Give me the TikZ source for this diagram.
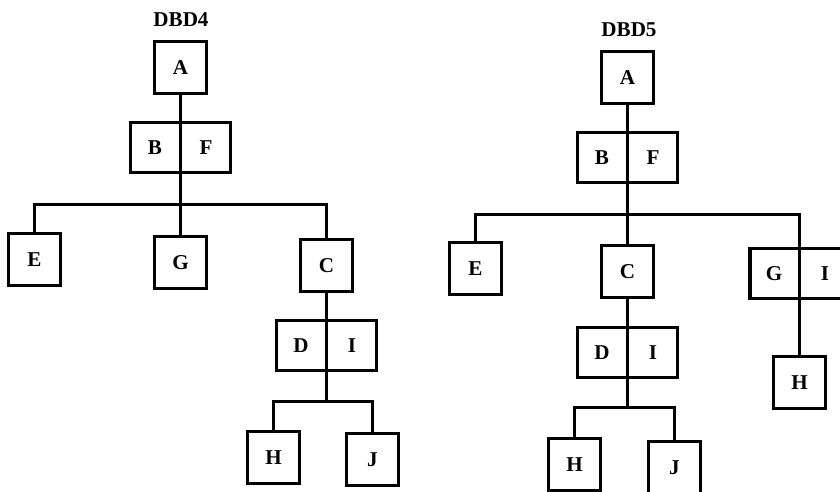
\documentclass[tikz,border=0pt]{standalone}
\usepackage{fontspec}
\setmainfont{Liberation Serif}
\usetikzlibrary{shapes.multipart}
\begin{document}
\begin{tikzpicture}[x=0.025cm, y=-0.025cm, font=\bfseries\fontsize{15}{17}\selectfont]
      \tikzset{sqbox/.style={draw, line width=2.2pt, minimum width=1.3cm, minimum height=1.3cm, inner sep=0pt},
        pair/.style={draw, line width=2.2pt, rectangle split, rectangle split horizontal, rectangle split parts=2,
          text width=1.2cm, align=center, inner xsep=0pt, inner ysep=0pt, minimum height=1.23cm},
        link/.style={line width=2pt}}
      \useasboundingbox (0,0) rectangle (840,492);

      \node (title4) at (181,20) {DBD4};
      \node[sqbox] (a4) at (180.5,67.5) {A};
      \node[pair] (bf4) at (180.5,147.5) {B\nodepart{two}F};
      \coordinate (bus4) at (180.5,204.5);
      \node[sqbox] (e4) at (34.5,259.5) {E};
      \node[sqbox] (g4) at (180.5,262.5) {G};
      \node[sqbox] (c4) at (326.5,265.5) {C};
      \node[pair] (di4) at (326.5,345.5) {D\nodepart{two}I};
      \coordinate (sub4) at (326.5,401.5);
      \node[sqbox] (h4) at (273.5,457.5) {H};
      \node[sqbox] (j4) at (372.5,459.5) {J};
      \draw[link] (a4) -- (bf4);
      \draw[link] (bf4) -- (g4);
      \draw[link] (e4.north) |- (bus4) -| (c4.north);
      \draw[link] (c4) -- (di4);
      \draw[link] (di4.south) -- (sub4);
      \draw[link] (h4.north) |- (sub4) -| (j4.north);

      \node (title5) at (629,30) {DBD5};
      \node[sqbox] (a5) at (627.5,77.5) {A};
      \node[pair] (bf5) at (627.5,157.5) {B\nodepart{two}F};
      \coordinate (bus5) at (627.5,214.5);
      \node[sqbox] (e5) at (475.5,268.5) {E};
      \node[sqbox] (c5) at (627.5,271.5) {C};
      \node[pair] (gi5) at (799.5,273.5) {G\nodepart{two}I};
      \node[pair] (di5) at (627.5,352.5) {D\nodepart{two}I};
      \coordinate (sub5) at (627.5,407.5);
      \node[sqbox] (h5) at (574.5,464.5) {H};
      \node[sqbox] (j5) at (674.5,467.5) {J};
      \node[sqbox] (gh5) at (799.5,382.5) {H};
      \draw[link] (a5) -- (bf5);
      \draw[link] (bf5) -- (c5);
      \draw[link] (e5.north) |- (bus5) -| (gi5.north);
      \draw[link] (gi5.south) -- (gh5);
      \draw[link] (c5) -- (di5);
      \draw[link] (di5.south) -- (sub5);
      \draw[link] (h5.north) |- (sub5) -| (j5.north);
    \end{tikzpicture}
\end{document}
